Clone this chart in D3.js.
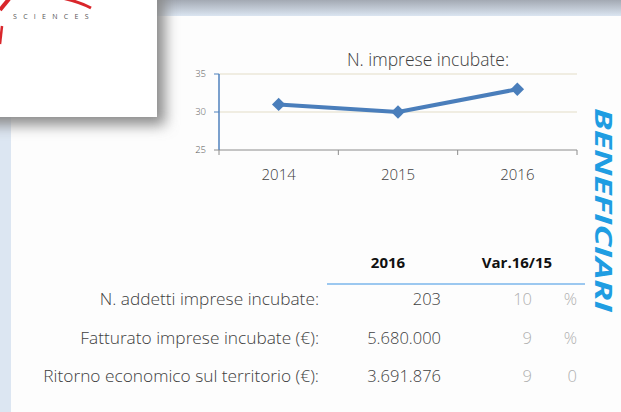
<!DOCTYPE html>
<html>
<head>
<meta charset="utf-8">
<script src="https://cdn.jsdelivr.net/npm/d3@7"></script>
<style>
  body { margin: 0; background: #fdfdfd; }
  svg { display: block; font-family: "Open Sans", "Noto Sans", sans-serif; }
</style>
</head>
<body>
<div id="chart"></div>
<script>
// chart data
var years = ['2014', '2015', '2016'];
var imprese = [31, 30, 33];
var yTicks = [25, 30, 35];

// table data
var headers = ['2016', 'Var.16/15'];
var rowLabels = ['N. addetti imprese incubate:', 'Fatturato imprese incubate (\u20AC):', 'Ritorno economico sul territorio (\u20AC):'];
var values2016 = ['203', '5.680.000', '3.691.876'];
var varValues = ['10', '9', '9'];
var varUnits = ['%', '%', '0'];

var W = 621, H = 412;

var svg = d3.select('#chart').append('svg')
  .attr('width', W)
  .attr('height', H);

var defs = svg.append('defs');

var band = defs.append('linearGradient').attr('id', 'band')
  .attr('x1', 0).attr('y1', 0).attr('x2', 0).attr('y2', 1);
band.append('stop').attr('offset', 0).attr('stop-color', '#a3a9b3');
band.append('stop').attr('offset', 1).attr('stop-color', '#dbe5f1');

defs.append('filter').attr('id', 'blur')
  .attr('x', -0.5).attr('y', -0.5).attr('width', 2).attr('height', 2)
  .append('feGaussianBlur').attr('stdDeviation', 7);

// background pieces
svg.append('rect').attr('width', W).attr('height', H).attr('fill', '#fdfdfd');
svg.append('rect').attr('x', 0).attr('y', 0).attr('width', W).attr('height', 16).attr('fill', 'url(#band)');
svg.append('rect').attr('x', 0).attr('y', 0).attr('width', 11).attr('height', H).attr('fill', '#dce6f2');

// logo box with shadow
svg.append('rect').attr('x', -20).attr('y', -20).attr('width', 185).attr('height', 145)
  .attr('fill', '#8a8a8a').attr('filter', 'url(#blur)');
svg.append('rect').attr('x', 0).attr('y', 0).attr('width', 157).attr('height', 117).attr('fill', '#ffffff');
svg.append('path').attr('d', 'M9,-1 L0,10')
  .attr('fill', 'none').attr('stroke', '#d9262b').attr('stroke-width', 4);
svg.append('path').attr('d', 'M2,26 L0,44')
  .attr('fill', 'none').attr('stroke', '#d9262b').attr('stroke-width', 2.5);
svg.append('path').attr('d', 'M62,-2 Q80,2 91,8')
  .attr('fill', 'none').attr('stroke', '#d9262b').attr('stroke-width', 3);
svg.append('text').attr('x', 13).attr('y', 19)
  .attr('font-size', 7).attr('letter-spacing', 6.3).attr('fill', '#555')
  .text('SCIENCES');

// scales
var x = d3.scaleBand().domain(years).range([219, 577]);
var y = d3.scaleLinear().domain([25, 35]).range([150, 74]);

var g = svg.append('g');

// gridlines
g.selectAll('.grid').data(yTicks.slice(1)).enter().append('line')
  .attr('x1', 219).attr('x2', 577)
  .attr('y1', function(d) { return y(d); }).attr('y2', function(d) { return y(d); })
  .attr('stroke', '#e3ddc8').attr('stroke-width', 1.2);

// x axis
g.append('line').attr('x1', 219).attr('x2', 577).attr('y1', y(25)).attr('y2', y(25))
  .attr('stroke', '#8c8c8c').attr('stroke-width', 1);
var edges = years.map(function(d) { return x(d); }).concat([x.range()[1]]);
g.selectAll('.xtick').data(edges).enter().append('line')
  .attr('x1', function(d) { return d; }).attr('x2', function(d) { return d; })
  .attr('y1', y(25)).attr('y2', y(25) + 5)
  .attr('stroke', '#8c8c8c');
g.selectAll('.xlab').data(years).enter().append('text')
  .attr('x', function(d) { return x(d) + x.bandwidth() / 2; })
  .attr('y', 180)
  .attr('text-anchor', 'middle')
  .attr('font-size', 15).attr('font-weight', 300).attr('fill', '#404040')
  .text(function(d) { return d; });

// y axis
g.append('line').attr('x1', 219).attr('x2', 219).attr('y1', y(35)).attr('y2', y(25))
  .attr('stroke', '#4f81bd').attr('stroke-width', 1.5);
g.selectAll('.ytick').data(yTicks).enter().append('line')
  .attr('x1', 214).attr('x2', 219)
  .attr('y1', function(d) { return y(d); }).attr('y2', function(d) { return y(d); })
  .attr('stroke', function(d) { return d === 25 ? '#8c8c8c' : '#4f81bd'; });
g.selectAll('.ylab').data(yTicks).enter().append('text')
  .attr('x', 206)
  .attr('y', function(d) { return y(d) + 3; })
  .attr('text-anchor', 'end')
  .attr('font-size', 9.5).attr('font-weight', 300).attr('fill', '#595959')
  .text(function(d) { return d; });

// title
g.append('text').attr('x', 428).attr('y', 66)
  .attr('text-anchor', 'middle').attr('font-size', 17.5).attr('font-weight', 300).attr('fill', '#404040')
  .text('N. imprese incubate:');

// line + markers
var line = d3.line()
  .x(function(d, i) { return x(years[i]) + x.bandwidth() / 2; })
  .y(function(d) { return y(d); });
g.append('path').datum(imprese)
  .attr('d', line)
  .attr('fill', 'none').attr('stroke', '#4a7ebb').attr('stroke-width', 4)
  .attr('stroke-linejoin', 'round');
g.selectAll('.pt').data(imprese).enter().append('path')
  .attr('d', d3.symbol().type(d3.symbolSquare).size(90))
  .attr('transform', function(d, i) {
    return 'translate(' + (x(years[i]) + x.bandwidth() / 2) + ',' + y(d) + ') rotate(45)';
  })
  .attr('fill', '#4a7ebb');

// side title
svg.append('text')
  .attr('transform', 'translate(595,210) rotate(90)')
  .attr('text-anchor', 'middle')
  .attr('font-size', 24).attr('font-weight', 'bold').attr('font-style', 'italic')
  .attr('textLength', 204).attr('lengthAdjust', 'spacingAndGlyphs')
  .attr('fill', '#1f9de2')
  .text('BENEFICIARI');

// table
var rowY = d3.scalePoint().domain(rowLabels).range([305, 382]);
var t = svg.append('g');
t.append('text').attr('x', 388).attr('y', 268).attr('text-anchor', 'middle')
  .attr('font-size', 15).attr('font-weight', 'bold').attr('fill', '#111').text(headers[0]);
t.append('text').attr('x', 517).attr('y', 268).attr('text-anchor', 'middle')
  .attr('font-size', 15).attr('font-weight', 'bold').attr('fill', '#111').text(headers[1]);
t.append('line').attr('x1', 327).attr('x2', 585).attr('y1', 284).attr('y2', 284)
  .attr('stroke', '#9cc8f0').attr('stroke-width', 2);

t.selectAll('.lab').data(rowLabels).enter().append('text')
  .attr('x', 319).attr('y', function(d) { return rowY(d); })
  .attr('text-anchor', 'end').attr('font-size', 17.3).attr('font-weight', 300).attr('fill', '#404040')
  .text(function(d) { return d; });
t.selectAll('.val').data(values2016).enter().append('text')
  .attr('x', 441).attr('y', function(d, i) { return rowY(rowLabels[i]); })
  .attr('text-anchor', 'end').attr('font-size', 16.5).attr('font-weight', 300).attr('fill', '#404040')
  .text(function(d) { return d; });
t.selectAll('.var').data(varValues).enter().append('text')
  .attr('x', 532).attr('y', function(d, i) { return rowY(rowLabels[i]); })
  .attr('text-anchor', 'end').attr('font-size', 16.5).attr('font-weight', 300).attr('fill', '#b0b0b0')
  .text(function(d) { return d; });
t.selectAll('.unit').data(varUnits).enter().append('text')
  .attr('x', 577).attr('y', function(d, i) { return rowY(rowLabels[i]); })
  .attr('text-anchor', 'end').attr('font-size', 16.5).attr('font-weight', 300).attr('fill', '#b0b0b0')
  .text(function(d) { return d; });
</script>
</body>
</html>
